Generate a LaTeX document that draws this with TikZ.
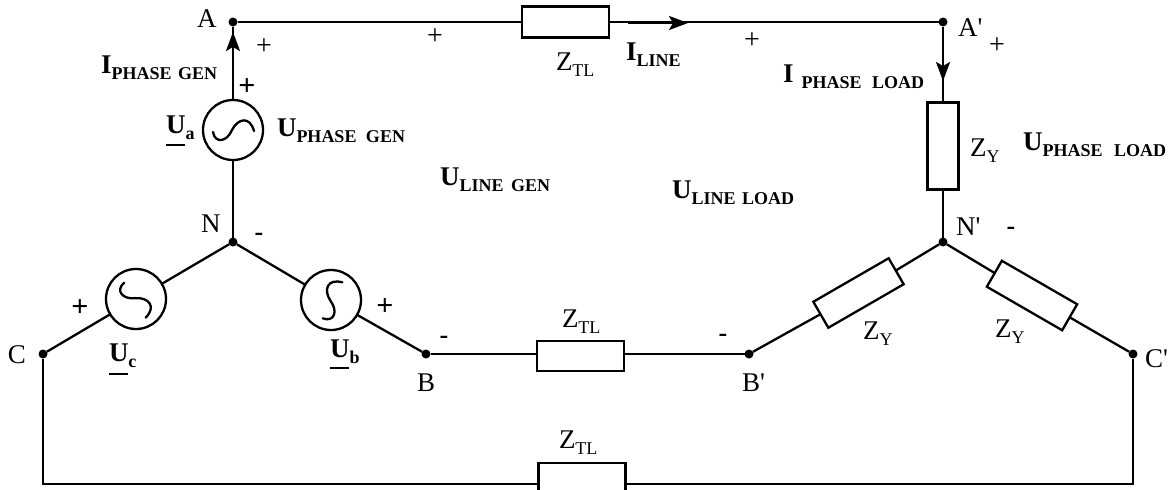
\documentclass[tikz,border=0pt]{standalone}
\usepackage{fontspec}
\setmainfont{Liberation Serif}[Ligatures=TeXOff]
\usetikzlibrary{arrows.meta}
\newcommand{\mainsz}{\fontsize{27}{27}\selectfont}
\newcommand{\subsz}{\fontsize{18}{18}\selectfont}
\newcommand{\bsub}[2]{{\mainsz\bfseries #1}\raisebox{-6pt}{\subsz\bfseries #2}}
\newcommand{\rsub}[2]{{\mainsz #1}\raisebox{-6pt}{\fontsize{18}{18}\selectfont #2}}
\newcommand{\phasor}[3]{\rlap{\rule[-#3pt]{19pt}{2pt}}{\mainsz\bfseries #1}\raisebox{-6.5pt}{\subsz\bfseries #2}}
\tikzset{
  wire/.style={line width=2.3pt, line join=miter},
  dotn/.style={circle, fill=black, draw=none, minimum size=9pt, inner sep=0pt, outer sep=0pt},
  src/.style={circle, draw=black, line width=2.3pt, fill=white, minimum size=60pt, inner sep=0pt, outer sep=0pt},
  imp/.style={rectangle, draw=black, line width=2.3pt, fill=white, minimum width=87pt, minimum height=30pt, inner sep=0pt, outer sep=0pt},
  lab/.style={anchor=base west, inner sep=0pt, outer sep=0pt, text=black},
  pl/.style={anchor=center, inner sep=0pt, outer sep=0pt, font=\fontsize{28}{28}\selectfont},
  bpl/.style={anchor=center, inner sep=0pt, outer sep=0pt, font=\fontsize{30}{30}\selectfont\bfseries},
  mi/.style={anchor=center, inner sep=0pt, outer sep=0pt, font=\fontsize{26}{26}\selectfont\bfseries},
  tip/.style={line width=2.3pt, -{Stealth[length=19pt,width=14pt,inset=4pt]}},
  wave/.style={line width=2.3pt, line cap=round}
}
\newcommand{\sine}[2]{\draw[wave, shift={(#1)}, rotate=#2] (-20,2) .. controls (-18,14) and (-6,12) .. (-1,0) .. controls (5,-12) and (17,-14) .. (21,1);}
\begin{document}
\begin{tikzpicture}[x=1pt,y=-1pt]
\useasboundingbox (0,0) rectangle (1176,490);
\clip (0,0) rectangle (1176,490);
% junctions
\node[dotn] (A) at (233,22) {};
\node[dotn] (Ap) at (943,22) {};
\node[dotn] (N) at (233,242) {};
\node[dotn] (Np) at (943,242) {};
\node[dotn] (B) at (426,354) {};
\node[dotn] (Bp) at (749,354) {};
\node[dotn] (C) at (43,354) {};
\node[dotn] (Cp) at (1133,354) {};
% sources
\node[src] (Ua) at (233,130) {};
\node[src] (Ub) at (331,300) {};
\node[src] (Uc) at (136,299) {};
% impedances
\node[imp, minimum height=31pt] (ZT1) at (565.5,22) {};
\node[imp] (ZT2) at (580.5,356) {};
\node[imp, minimum height=31pt] (ZT3) at (582,478.5) {};
\node[imp, minimum width=31pt, minimum height=87pt] (ZYa) at (943,146) {};
\node[imp, rotate=30] (ZYb) at (858.5,293) {};
\node[imp, rotate=-30] (ZYc) at (1032,295.5) {};
\coordinate (Cb) at (43,484);
\coordinate (Cpb) at (1133,484);
% wires
\draw[wire] (A) -- (ZT1) -- (Ap);
\draw[wire] (A) -- (Ua) -- (N);
\draw[wire] (N) -- (Uc) -- (C);
\draw[wire] (N) -- (Ub) -- (B);
\draw[wire] (B) -- (B -| ZT2.west);
\draw[wire] (Bp) -- (Bp -| ZT2.east);
\draw[wire] (Ap) -- (ZYa) -- (Np);
\draw[wire] (Np) -- (ZYb) -- (Bp);
\draw[wire] (Np) -- (ZYc) -- (Cp);
\draw[wire] (C) -- (Cb) -- (Cb -| ZT3.west);
\draw[wire] (Cp) -- (Cpb) -- (Cpb -| ZT3.east);
% sine symbols
\sine{Ua}{0}
\sine{Ub}{60}
\sine{Uc}{-60}
% current arrows
\coordinate (ia0) at (233,62); \coordinate (ia1) at (233,32);
\draw[tip] (ia0) -- (ia1);
\coordinate (il0) at (628,23); \coordinate (il1) at (688,23);
\draw[tip] (il0) -- (il1);
\coordinate (ip0) at (943,40); \coordinate (ip1) at (943,81);
\draw[tip] (ip0) -- (ip1);
% point labels
\node[lab, font=\mainsz] (lA) at (197,27) {A};
\node[lab, font=\mainsz] (lAp) at (958,36) {A'};
\node[lab, font=\mainsz] (lN) at (201,232) {N};
\node[lab, font=\mainsz] (lNp) at (956,235) {N'};
\node[lab, font=\mainsz] (lB) at (417,391) {B};
\node[lab, font=\mainsz] (lBp) at (742,391) {B'};
\node[lab, font=\mainsz] (lC) at (8,363) {C};
\node[lab, font=\mainsz] (lCp) at (1145,367) {C'};
% impedance labels
\node[lab] (lz1) at (556,70) {\rsub{Z}{TL}};
\node[lab] (lz2) at (562,327) {\rsub{Z}{TL}};
\node[lab] (lz3) at (559,448) {\rsub{Z}{TL}};
\node[lab] (lz4) at (970,156) {\rsub{Z}{Y}};
\node[lab] (lz5) at (863,339) {\rsub{Z}{Y}};
\node[lab] (lz6) at (995,337) {\rsub{Z}{Y}};
% bold labels
\node[lab] (l1) at (101,73) {\bsub{I}{PHASE\hspace{2pt} GEN}};
\node[lab] (l2) at (277,136) {\bsub{U}{PHASE\hspace{5pt} GEN}};
\node[lab] (l3) at (783,82) {\bsub{I}{\hspace{8pt}PHASE\hspace{6pt} LOAD}};
\node[lab] (l4) at (1023,150) {\bsub{U}{PHASE\hspace{7pt} LOAD}};
\node[lab] (l5) at (626,60) {\bsub{I}{LINE}};
\node[lab] (l6) at (440,185) {\bsub{U}{LINE\hspace{3pt} GEN}};
\node[lab] (l7) at (672,198) {\bsub{U}{LINE\hspace{2pt} LOAD}};
% phasors
\node[lab] (pa) at (166,133) {\phasor{U}{a}{13}};
\node[lab] (pb) at (330,357) {\phasor{U}{b}{12}};
\node[lab] (pc) at (109,361) {\phasor{U}{c}{14}};
% polarity marks
\node[pl] (p1) at (264,47) {+};
\node[pl] (p2) at (435,37) {+};
\node[pl] (p3) at (752,41) {+};
\node[pl] (p4) at (997,46) {+};
\node[bpl] (q1) at (247,87) {+};
\node[bpl] (q2) at (80,308) {+};
\node[bpl] (q3) at (385,307) {+};
\node[mi] (m1) at (259,237) {-};
\node[mi] (m2) at (1011,231) {-};
\node[mi] (m3) at (444,340) {-};
\node[mi] (m4) at (723,338) {-};
\end{tikzpicture}
\end{document}
